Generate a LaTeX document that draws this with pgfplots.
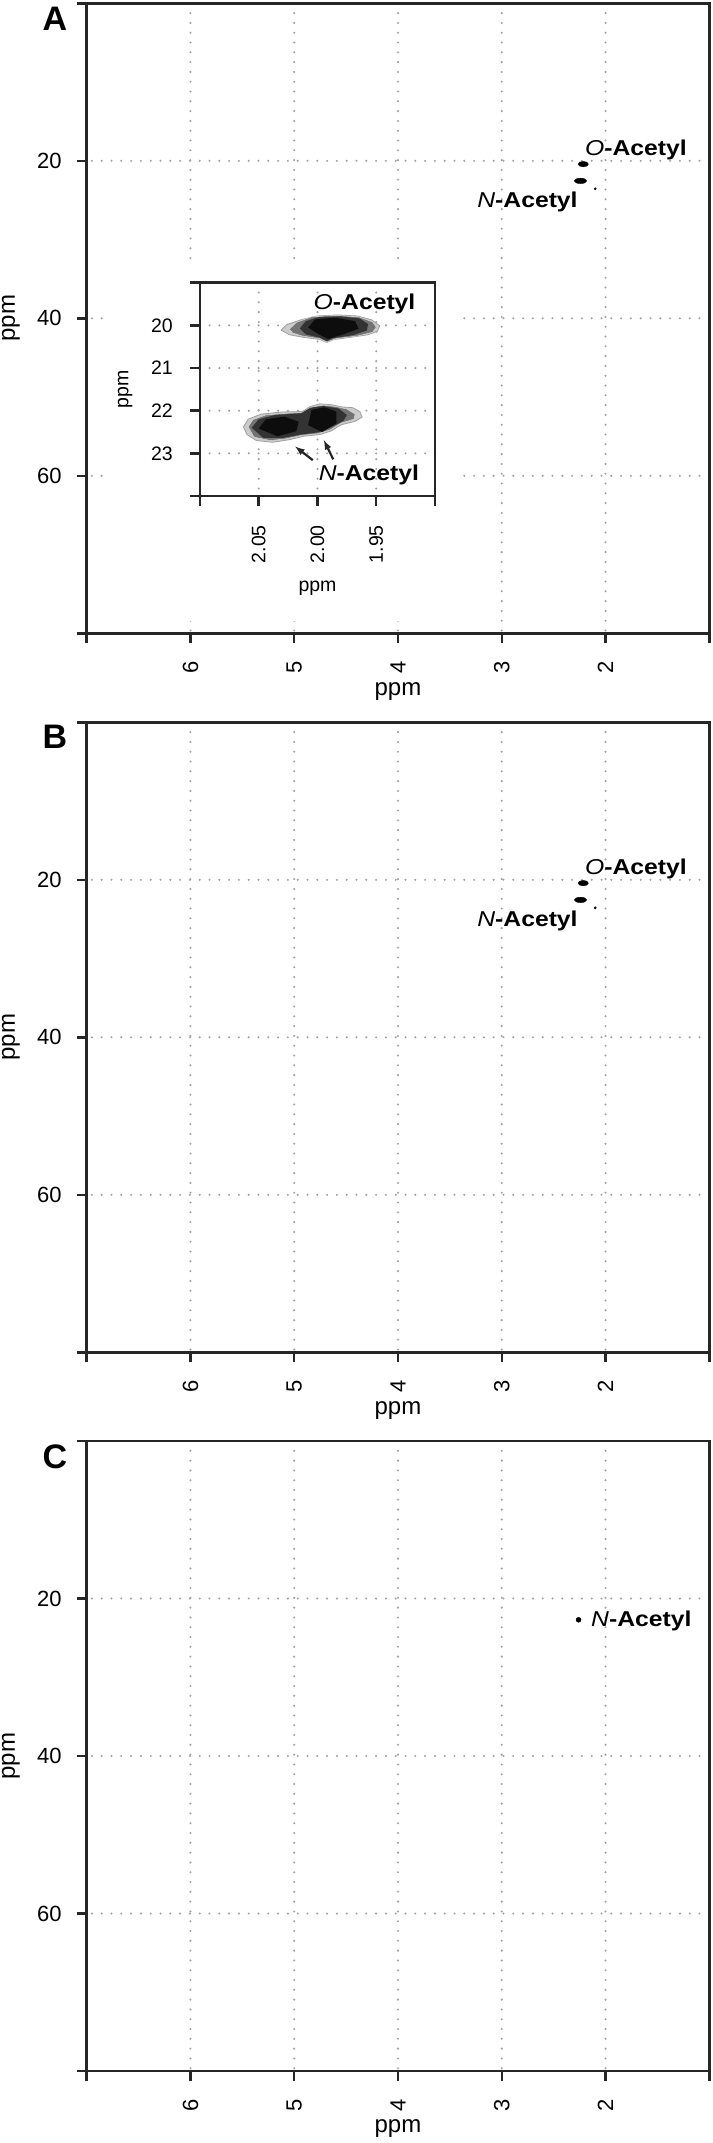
\documentclass[border=0pt]{standalone}
\usepackage{fontspec}
\setmainfont{Liberation Sans}
\usepackage{graphicx}
\usepackage{pgfplots}
\pgfplotsset{compat=1.18}

\definecolor{axcol}{HTML}{262626}
\definecolor{gridcol}{HTML}{A2A2A2}

\newcommand{\annfont}{\fontsize{21.5bp}{25bp}\selectfont}
\newcommand{\OAc}{\scalebox{1.15}[1]{{\itshape O}{\bfseries -Acetyl}}}
\newcommand{\NAc}{\scalebox{1.15}[1]{{\itshape N}{\bfseries -Acetyl}}}

\pgfplotsset{
  rstyle/.style={
    scale only axis,
    /pgf/number format/assume math mode=true,
    axis line style={line width=2.5bp, axcol},
    every tick/.style={line width=2.5bp, axcol},
    tick align=outside,
    major tick length=10bp,
    xtick pos=left, ytick pos=left,
    grid=major,
    grid style={gridcol, line width=2.3bp, line cap=round, dash pattern=on 0bp off 9.8bp},
    x dir=reverse, y dir=reverse,
    xticklabel style={rotate=90, anchor=east, inner sep=0pt},
    yticklabel style={anchor=east, inner sep=0pt},
    extra x tick style={grid=none},
    extra y tick style={grid=none},
    extra x tick labels={{},{}},
    extra y tick labels={{},{}},
    clip=false,
  },
  mainax/.style={rstyle,
    width=622.6bp, height=630bp,
    xmin=1, xmax=7, ymin=0, ymax=80,
    xtick={2,3,4,5,6}, ytick={20,40,60},
    extra x ticks={1,7}, extra y ticks={0,80},
    ticklabel style={font=\fontsize{22bp}{26bp}\selectfont},
    xticklabel shift=18bp, yticklabel shift=15bp,
    xlabel={ppm}, ylabel={ppm},
    label style={font=\fontsize{24bp}{28bp}\selectfont},
    xlabel style={at={(axis description cs:0.5,-0.092)}, anchor=center},
    ylabel style={at={(axis description cs:-0.1216,0.5)}, anchor=center},
  },
  insetax/.style={rstyle,
    width=235bp, height=213.3bp,
    xmin=1.90, xmax=2.10, ymin=19, ymax=24,
    xtick={1.95,2.00,2.05}, ytick={20,21,22,23},
    extra x ticks={1.90,2.10}, extra y ticks={19,24},
    x tick label style={/pgf/number format/fixed, /pgf/number format/fixed zerofill, /pgf/number format/precision=2},
    ticklabel style={font=\fontsize{19.5bp}{23bp}\selectfont},
    xticklabel shift=19bp, yticklabel shift=17bp,
    xlabel={ppm}, ylabel={ppm},
    label style={font=\fontsize{19.5bp}{23bp}\selectfont},
    xlabel style={at={(axis description cs:0.5,-0.4313)}, anchor=center},
    ylabel style={at={(axis description cs:-0.319,0.5)}, anchor=center},
  },
  spotA/.style={only marks, mark=*, mark size=2.7bp, mark options={xscale=1.9, fill=black, draw=black}},
}

\begin{document}
\begin{tikzpicture}
\useasboundingbox (0,0) rectangle (713bp,-2143bp);

% ---------------- Panel A ----------------
\begin{axis}[mainax, at={(86.7bp,-633.3bp)}, anchor=south west]
\addplot[spotA] coordinates {(2.215,20.42)};
\addplot[only marks, mark=*, mark size=2.7bp, mark options={xscale=2.3, fill=black, draw=black}] coordinates {(2.241,22.55)};
\addplot[only marks, mark=*, mark size=1.1bp, mark options={fill=black, draw=black}] coordinates {(2.10,23.55)};
\node[anchor=west, font=\annfont, inner sep=0pt] at (axis cs:2.199,18.6) {\OAc};
\node[anchor=east, font=\annfont, inner sep=0pt] at (axis cs:2.267,25.2) {\NAc};
\end{axis}
\node[font=\fontsize{34bp}{40bp}\selectfont\bfseries] at (55bp,-19bp) {A};

% white background of the inset
\fill[white] (104bp,-260bp) rectangle (459bp,-621bp);

% ---------------- Inset ----------------
\begin{axis}[insetax, at={(200bp,-496bp)}, anchor=south west]
% O-acetyl cross peak, contour layers
\addplot[fill=gray!40, draw=gray!75, line width=0.8bp] coordinates {(2.031,20.11) (2.026,19.98) (2.013,19.86) (2.000,19.78) (1.983,19.755) (1.966,19.78) (1.954,19.87) (1.947,20.01) (1.949,20.14) (1.957,20.22) (1.972,20.28) (1.986,20.33) (1.992,20.40) (1.998,20.33) (2.012,20.28) (2.024,20.22)} -- cycle;
\addplot[fill=black!55, draw=gray!35, line width=0.6bp] coordinates {(2.024,20.09) (2.018,19.93) (2.005,19.80) (1.985,19.77) (1.965,19.80) (1.953,19.92) (1.950,20.04) (1.953,20.16) (1.966,20.25) (1.984,20.31) (1.992,20.39) (1.998,20.31) (2.013,20.25) (2.021,20.18)} -- cycle;
\addplot[fill=black!80, draw=none] coordinates {(2.015,20.07) (2.010,19.90) (1.998,19.80) (1.980,19.79) (1.964,19.84) (1.957,19.97) (1.958,20.12) (1.970,20.23) (1.987,20.30) (1.992,20.37) (1.998,20.29) (2.010,20.21)} -- cycle;
\addplot[fill=black!95, draw=none] coordinates {(2.008,20.05) (2.002,19.86) (1.985,19.82) (1.968,19.90) (1.965,20.08) (1.978,20.21) (1.991,20.32) (1.999,20.21)} -- cycle;
% N-acetyl cross peaks
\addplot[fill=gray!40, draw=gray!75, line width=0.8bp] coordinates {(2.063,22.38) (2.059,22.20) (2.048,22.08) (2.030,22.03) (2.013,22.02) (2.006,21.90) (1.998,21.84) (1.988,21.86) (1.980,21.91) (1.970,21.93) (1.964,22.02) (1.962,22.15) (1.968,22.25) (1.980,22.33) (1.988,22.47) (1.998,22.56) (2.012,22.60) (2.024,22.68) (2.038,22.74) (2.052,22.70) (2.060,22.56)} -- cycle;
\addplot[fill=black!55, draw=gray!35, line width=0.6bp] coordinates {(2.059,22.38) (2.055,22.21) (2.044,22.10) (2.026,22.06) (2.010,22.04) (2.004,21.91) (1.995,21.87) (1.985,21.90) (1.975,21.96) (1.968,22.08) (1.969,22.20) (1.980,22.29) (1.989,22.45) (2.000,22.54) (2.014,22.58) (2.027,22.66) (2.040,22.70) (2.054,22.62)} -- cycle;
\addplot[fill=black!80, draw=none] coordinates {(2.056,22.40) (2.050,22.20) (2.036,22.10) (2.014,22.06) (2.006,21.93) (1.995,21.89) (1.982,21.95) (1.975,22.10) (1.978,22.24) (1.988,22.38) (1.998,22.50) (2.014,22.56) (2.030,22.64) (2.046,22.64)} -- cycle;
\addplot[fill=black!95, draw=none] coordinates {(2.050,22.42) (2.044,22.20) (2.028,22.14) (2.016,22.26) (2.018,22.48) (2.034,22.60)} -- cycle;
\addplot[fill=black!95, draw=none] coordinates {(2.008,22.34) (2.005,21.98) (1.994,21.92) (1.984,22.02) (1.984,22.30) (1.996,22.50)} -- cycle;
\draw[-latex, line width=2.2bp, axcol] (axis cs:2.004,23.16) -- (axis cs:2.019,22.84);
\draw[-latex, line width=2.2bp, axcol] (axis cs:1.9866,23.14) -- (axis cs:1.9946,22.69);
\node[anchor=west, font=\annfont, inner sep=0pt] at (axis cs:2.0034,19.50) {\OAc};
\node[anchor=west, font=\annfont, inner sep=0pt] at (axis cs:1.9991,23.50) {\NAc};
\end{axis}

% ---------------- Panel B ----------------
\begin{axis}[mainax, at={(86.7bp,-1352.3bp)}, anchor=south west]
\addplot[spotA] coordinates {(2.215,20.42)};
\addplot[only marks, mark=*, mark size=2.7bp, mark options={xscale=2.3, fill=black, draw=black}] coordinates {(2.241,22.55)};
\addplot[only marks, mark=*, mark size=1.1bp, mark options={fill=black, draw=black}] coordinates {(2.10,23.55)};
\node[anchor=west, font=\annfont, inner sep=0pt] at (axis cs:2.199,18.6) {\OAc};
\node[anchor=east, font=\annfont, inner sep=0pt] at (axis cs:2.267,25.2) {\NAc};
\end{axis}
\node[font=\fontsize{34bp}{40bp}\selectfont\bfseries] at (55bp,-737bp) {B};

% ---------------- Panel C ----------------
\begin{axis}[mainax, at={(86.7bp,-2071bp)}, anchor=south west]
\addplot[only marks, mark=*, mark size=2.5bp, mark options={fill=black, draw=black}] coordinates {(2.26,22.7)};
\node[anchor=west, font=\annfont, inner sep=0pt] at (axis cs:2.14,22.9) {\NAc};
\end{axis}
\node[font=\fontsize{34bp}{40bp}\selectfont\bfseries] at (55bp,-1457bp) {C};
\end{tikzpicture}
\end{document}
